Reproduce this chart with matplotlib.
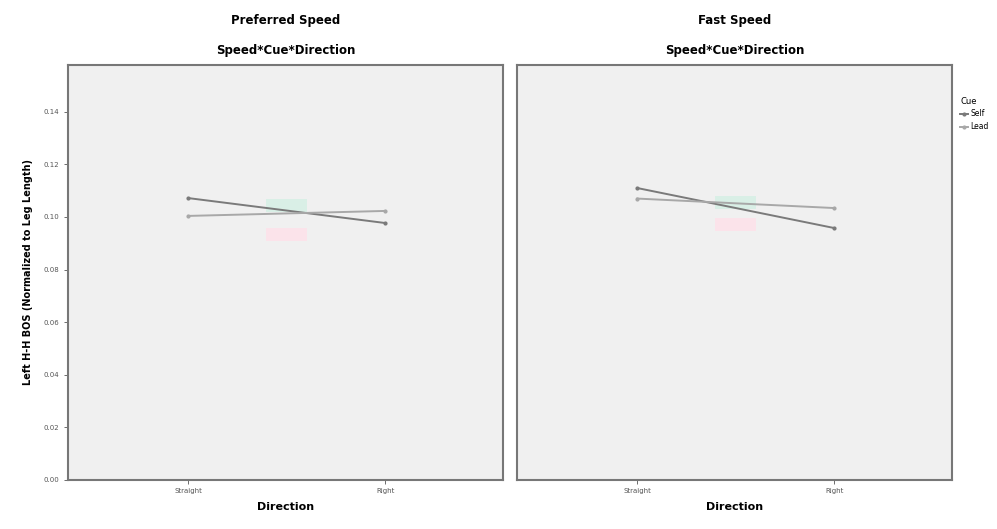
import matplotlib.pyplot as plt

directions = ['Straight', 'Right']
cues = ['Self', 'Lead']
panels = ['Preferred Speed', 'Fast Speed']

# values per panel, per cue (Straight, Right)
pref_self = [0.1072, 0.0977]
pref_lead = [0.1004, 0.1023]
fast_self = [0.1110, 0.0958]
fast_lead = [0.1070, 0.1034]

yticks = [0.00, 0.02, 0.04, 0.06, 0.08, 0.10, 0.12, 0.14]
ytick_labels = ['0.00', '0.02', '0.04', '0.06', '0.08', '0.10', '0.12', '0.14']

data = [(pref_self, pref_lead), (fast_self, fast_lead)]
line_colors = ['#7a7a7a', '#a8a8a8']
tag_colors = ['#d9efe6', '#fbe3ea']

fig = plt.figure(figsize=(9.97, 5.29), dpi=100)
boxes = [[0.068, 0.093, 0.437, 0.785], [0.519, 0.093, 0.436, 0.785]]

for i, (title, vals) in enumerate(zip(panels, data)):
    ax = fig.add_axes(boxes[i])
    ax.set_facecolor('#f0f0f0')
    x = list(range(len(directions)))
    for j, v in enumerate(vals):
        ax.plot(x, v, color=line_colors[j], lw=1.4, marker='o', ms=2,
                label=cues[j])
        mid = (v[0] + v[1]) / 2
        off = 0.001 if j == 0 else -0.009
        ax.text(0.5, mid + off, '              ', fontsize=6, ha='center',
                bbox=dict(fc=tag_colors[j], ec='none', pad=1.5), zorder=1)
    ax.set_xlim(-0.61, 1.6)
    ax.set_ylim(0, 0.158)
    ax.set_xticks(x)
    ax.set_xticklabels(directions, fontsize=5, color='#555555')
    ax.set_yticks(yticks)
    if i == 0:
        ax.set_yticklabels(ytick_labels, fontsize=5, color='#555555')
        ax.set_ylabel('Left H-H BOS (Normalized to Leg Length)', fontsize=7,
                      fontweight='bold', labelpad=8)
    else:
        ax.tick_params(axis='y', left=False, labelleft=False)
    ax.tick_params(length=3, width=0.6, color='#555555', pad=3)
    for s in ax.spines.values():
        s.set_color('#777777')
        s.set_linewidth(1.5)
    ax.set_xlabel('Direction', fontsize=8, fontweight='bold', labelpad=6)
    ax.text(0.5, 1.105, title, transform=ax.transAxes, ha='center',
            va='center', fontsize=8.5, fontweight='bold')
    ax.text(0.5, 1.035, 'Speed*Cue*Direction', transform=ax.transAxes,
            ha='center', va='center', fontsize=8.5, fontweight='bold')
    if i == 1:
        leg = ax.legend(title='Cue', loc='upper left',
                        bbox_to_anchor=(1.012, 0.93), fontsize=5.5,
                        title_fontsize=6, frameon=False, handlelength=1.0,
                        handletextpad=0.3, borderaxespad=0)
        leg._legend_box.align = 'left'

plt.savefig('out.png', dpi=100)
